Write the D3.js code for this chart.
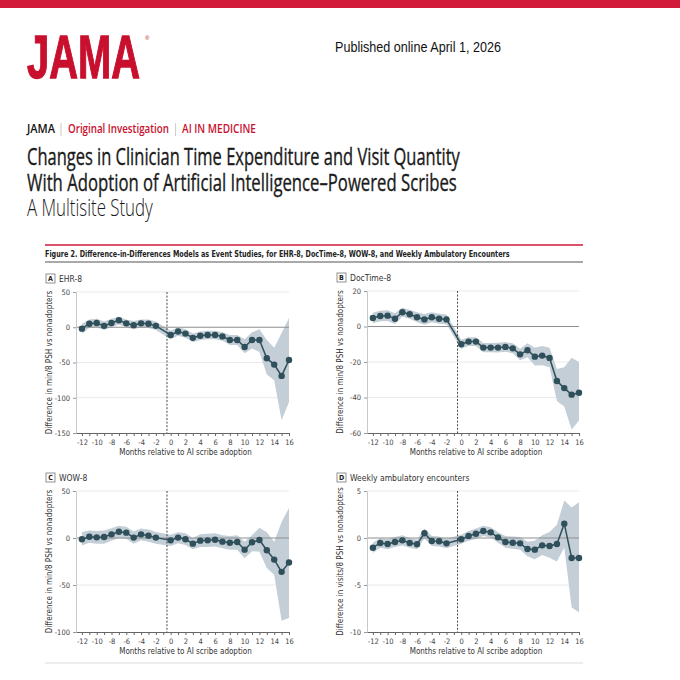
<!DOCTYPE html>
<html>
<head>
<meta charset="utf-8">
<script src="https://cdn.jsdelivr.net/npm/d3@7"></script>
<style>
  html, body { margin: 0; padding: 0; background: #fff; }
  svg { display: block; }
</style>
</head>
<body>
<script>
// months relative to adoption (month -1 is the reference period, not shown)
const months = [-12, -11, -10, -9, -8, -7, -6, -5, -4, -3, -2, 0, 1, 2, 3, 4, 5, 6, 7, 8, 9, 10, 11, 12, 13, 14, 15, 16];
const monthTicks = d3.range(-12, 17);

// A. EHR-8
const ehrEst = [-2, 5, 6, 2, 6, 10, 5.5, 3, 5.5, 5, 2, -11, -6, -9, -15, -12, -11, -11, -13, -18, -18, -28, -18, -18, -44, -53, -69, -46.5];
const ehrHi  = [5, 11, 12, 8, 12, 15, 11, 9, 11, 11, 8, -5, 0, -3, -9, -6, -5, -5, -7, -11, -11, -17, -7, -3, -18, -29, -8, 13];
const ehrLo  = [-9, -1, 0, -4, 0, 4, 0, -3, 0, -1, -4, -17, -12, -15, -21, -18, -17, -17, -19, -25, -25, -37, -30, -35, -67, -75, -132, -106];

// B. DocTime-8
const docEst = [4.8, 5.9, 6.1, 4.4, 8, 6.9, 5.2, 4, 5.2, 4.4, 4, -10, -8.5, -8.5, -11.9, -11.9, -11.9, -11.5, -12.3, -15.7, -13.4, -17, -16.4, -17.7, -30.7, -34.7, -38.4, -37.3];
const docHi  = [7.8, 8.9, 9.1, 7.4, 10.5, 9.5, 8, 7, 8, 7.2, 6.8, -7.5, -6, -6, -9.3, -9.3, -9.2, -8.8, -9.5, -12.5, -9.5, -12, -11, -12, -24, -23, -17.6, -20];
const docLo  = [1.8, 2.9, 3.1, 1.4, 5.5, 4.3, 2.4, 1, 2.4, 1.6, 1.2, -12.5, -11, -11, -14.5, -14.5, -14.6, -14.2, -15.1, -19, -17.3, -22, -21.8, -23, -42, -45, -58, -53];

// C. WOW-8
const wowEst = [-1.4, 1.4, 0.7, 1, 3.9, 6.7, 5.7, 0.4, 3.9, 2.5, 0.4, -2.5, 0.4, -1.4, -6, -2.8, -2.5, -1.8, -3.9, -5, -4.3, -12.4, -4.6, -2.1, -13, -23, -36, -26];
const wowHi  = [6, 8, 7.5, 8, 10.5, 13, 12, 7, 10, 9, 6.5, 3.5, 6, 5, 0, 4, 4.5, 5, 3, 2, 3, -4, 3, 11, 6, -4, 17, 32];
const wowLo  = [-8, -5, -6, -6, -3, 0, -1, -6, -2.5, -4, -6, -8.5, -5.5, -7.5, -12, -9.5, -9.5, -9, -11, -12.5, -12.5, -21.5, -14, -14.5, -32, -39, -88, -85];

// D. Weekly ambulatory encounters
const encEst = [-1.03, -0.53, -0.64, -0.43, -0.25, -0.53, -0.67, 0.5, -0.32, -0.35, -0.57, -0.14, 0.21, 0.46, 0.74, 0.6, 0.07, -0.43, -0.5, -0.57, -1.17, -1.24, -0.78, -0.85, -0.64, 1.52, -2.13, -2.13];
const encHi  = [-0.5, 0, -0.1, 0.1, 0.3, 0, -0.15, 1.0, 0.2, 0.15, -0.05, 0.35, 0.75, 1.0, 1.3, 1.15, 0.6, 0.2, 0.15, 0.1, -0.4, -0.3, 0.3, 0.65, 1.4, 4.0, 3.25, 3.8];
const encLo  = [-1.6, -1.05, -1.2, -0.95, -0.8, -1.05, -1.2, -0.05, -0.85, -0.9, -1.1, -0.6, -0.3, -0.1, 0.2, 0.05, -0.5, -1.05, -1.15, -1.25, -1.95, -2.25, -1.8, -2.1, -2.5, -1.0, -7.4, -7.9];

const panelLetters = ['A', 'B', 'C', 'D'];
const panelTitles = ['EHR-8', 'DocTime-8', 'WOW-8', 'Weekly ambulatory encounters'];
const yLabels = ['Difference in min/8 PSH vs nonadopters', 'Difference in min/8 PSH vs nonadopters',
                 'Difference in min/8 PSH vs nonadopters', 'Difference in visits/8 PSH vs nonadopters'];
const yTickSets = [[50, 0, -50, -100, -150], [20, 0, -20, -40, -60], [50, 0, -50, -100], [5, 0, -5, -10]];
const xLabel = 'Months relative to AI scribe adoption';

const W = 680, H = 680;
const red = '#c8102e';
const ink = '#2f4f5a';
const band = '#c3ced7';
const chartFont = '"Liberation Sans Narrow", "DejaVu Sans Condensed", "Open Sans", sans-serif';
const titleFont = '"Open Sans", "Noto Sans", sans-serif';

const svg = d3.select('body').append('svg').attr('width', W).attr('height', H);

// draw a text at (x, y) and squeeze it horizontally to a measured width
// (the journal face is condensed, none of ours is)
function fitText(x, y, width, str, styles){
    const t = svg.append('text').attr('x', 0).attr('y', 0).text(str);
    for(const k of Object.keys(styles)){
        if(k === 'fill' || k === 'stroke' || k === 'stroke-width') t.attr(k, styles[k]);
        else t.style(k, styles[k]);
    }
    const natural = t.node().getComputedTextLength();
    const sx = natural > 0 ? width / natural : 1;
    t.attr('transform', `translate(${x},${y}) scale(${sx},1)`);
    return t;
}

//header
svg.append('rect').attr('x', 0).attr('y', 0).attr('width', W).attr('height', 8).attr('fill', '#d21a3a');

fitText(27, 78, 113, 'JAMA', {'font-family': '"Liberation Sans", Arial, sans-serif', 'font-weight': 'bold',
    'font-size': '62px', 'fill': red, 'stroke': red, 'stroke-width': 1.3});
svg.append('text').attr('x', 145).attr('y', 40).style('font-family', 'Arial, sans-serif')
    .style('font-size', '6px').attr('fill', red).text('®');

fitText(335, 52, 166, 'Published online April 1, 2026',
    {'font-family': '"Liberation Sans", Arial, sans-serif', 'font-size': '14.5px', 'fill': '#111'});

// kicker line: label | section | topic
const kicker = [
    {text: 'JAMA', x: 27, w: 28, fill: '#111', weight: 600},
    {text: '|', x: 60, w: 2, fill: '#111', weight: 400},
    {text: 'Original Investigation', x: 68, w: 101, fill: red, weight: 600},
    {text: '|', x: 174.5, w: 2, fill: '#111', weight: 400},
    {text: 'AI IN MEDICINE', x: 182, w: 74, fill: red, weight: 600}
];
for(const k of kicker){
    fitText(k.x, 133, k.w, k.text, {'font-family': titleFont, 'font-size': '13px',
        'font-weight': k.weight, 'fill': k.fill});
}

const titleLines = [
    {text: 'Changes in Clinician Time Expenditure and Visit Quantity', y: 165, w: 433, weight: 500},
    {text: 'With Adoption of Artificial Intelligence–Powered Scribes', y: 191, w: 430, weight: 500},
    {text: 'A Multisite Study', y: 216, w: 126, weight: 300}
];
for(const l of titleLines){
    const st = {'font-family': titleFont, 'font-size': '23px', 'font-weight': l.weight, 'fill': '#1a1a1a'};
    if(l.weight > 400){ st['stroke'] = '#1a1a1a'; st['stroke-width'] = 0.35; }
    fitText(27, l.y, l.w, l.text, st);
}

// figure caption and rules
svg.append('line').attr('x1', 45).attr('x2', 583).attr('y1', 245).attr('y2', 245)
    .attr('stroke', '#d21a3a').attr('stroke-width', 1.5);
fitText(45, 257, 465,
    'Figure 2. Difference-in-Differences Models as Event Studies, for EHR-8, DocTime-8, WOW-8, and Weekly Ambulatory Encounters',
    {'font-family': chartFont, 'font-size': '9.5px', 'font-weight': 'bold', 'fill': '#222'});
svg.append('line').attr('x1', 45).attr('x2', 583).attr('y1', 262).attr('y2', 262)
    .attr('stroke', '#8c8c8c').attr('stroke-width', 1.3);
svg.append('line').attr('x1', 45).attr('x2', 583).attr('y1', 663).attr('y2', 663)
    .attr('stroke', '#dcdcdc').attr('stroke-width', 1);

// panel frames
const frames = [
    {x0: 76, x1: 289, y0: 292, y1: 433, est: ehrEst, hi: ehrHi, lo: ehrLo, dom: [-150, 50]},
    {x0: 367, x1: 579, y0: 291, y1: 433, est: docEst, hi: docHi, lo: docLo, dom: [-60, 20]},
    {x0: 76, x1: 289, y0: 491, y1: 632, est: wowEst, hi: wowHi, lo: wowLo, dom: [-100, 50]},
    {x0: 367, x1: 579, y0: 491, y1: 632, est: encEst, hi: encHi, lo: encLo, dom: [-10, 5]}
];

frames.forEach((f, i) => {
    const g = svg.append('g').attr('class', 'panel');
    const x = d3.scaleLinear().domain([-12.8, 16]).range([f.x0, f.x1]);
    const y = d3.scaleLinear().domain(f.dom).range([f.y1, f.y0]);
    const ticks = yTickSets[i];
    const rows = months.map((m, k) => ({m: m, est: f.est[k], lo: f.lo[k], hi: f.hi[k]}));

    // panel label box
    const bx = f.x0 - 30, by = f.y0 - 18;
    g.append('rect').attr('x', bx).attr('y', by).attr('width', 9).attr('height', 9)
        .attr('fill', 'none').attr('stroke', '#777').attr('stroke-width', 0.8);
    g.append('text').attr('x', bx + 4.5).attr('y', by + 7).attr('text-anchor', 'middle')
        .style('font-family', chartFont).style('font-size', '7px').style('font-weight', 'bold')
        .attr('fill', '#222').text(panelLetters[i]);
    g.append('text').attr('x', bx + 13).attr('y', by + 7.5)
        .style('font-family', chartFont).style('font-size', '8.5px').attr('fill', '#333').text(panelTitles[i]);

    // grid
    g.selectAll('.grid').data(ticks.filter(d => d !== 0 && d !== f.dom[0])).join('line')
        .attr('class', 'grid')
        .attr('x1', f.x0).attr('x2', f.x1)
        .attr('y1', d => y(d)).attr('y2', d => y(d))
        .attr('stroke', '#e9e9e9').attr('stroke-width', 1);

    // confidence band
    g.append('path').datum(rows)
        .attr('d', d3.area().x(d => x(d.m)).y0(d => y(d.lo)).y1(d => y(d.hi)))
        .attr('fill', band);

    // zero reference
    g.append('line').attr('x1', f.x0).attr('x2', f.x1).attr('y1', y(0)).attr('y2', y(0))
        .attr('stroke', '#8f8f8f').attr('stroke-width', 1.2);

    // adoption marker
    g.append('line').attr('x1', x(-0.5)).attr('x2', x(-0.5)).attr('y1', f.y0).attr('y2', f.y1)
        .attr('stroke', '#333').attr('stroke-width', 0.9).attr('stroke-dasharray', '2,1.6');

    // axes
    const yAxis = g.append('g').attr('transform', `translate(${f.x0},0)`)
        .call(d3.axisLeft(y).tickValues(ticks).tickSize(3).tickSizeOuter(0).tickFormat(d => String(d)));
    yAxis.select('.domain').attr('stroke', '#c8c8c8');
    yAxis.selectAll('.tick line').attr('stroke', '#999');
    yAxis.selectAll('.tick text').attr('fill', '#444')
        .style('font-family', chartFont).style('font-size', '7.5px');

    const xAxis = g.append('g').attr('transform', `translate(0,${f.y1})`)
        .call(d3.axisBottom(x).tickValues(monthTicks).tickSize(3).tickSizeOuter(0)
            .tickFormat(d => d % 2 === 0 ? String(d) : ''));
    xAxis.select('.domain').attr('stroke', '#666');
    xAxis.selectAll('.tick line').attr('stroke', '#666');
    xAxis.selectAll('.tick text').attr('fill', '#444').attr('dy', '0.75em')
        .style('font-family', chartFont).style('font-size', '7.5px');

    g.append('text').attr('x', (x(-12) + x(16)) / 2).attr('y', f.y1 + 22).attr('text-anchor', 'middle')
        .style('font-family', chartFont).style('font-size', '8px').attr('fill', '#333').text(xLabel);
    g.append('text')
        .attr('transform', `translate(${f.x0 - 24},${(f.y0 + f.y1) / 2}) rotate(-90)`)
        .attr('text-anchor', 'middle')
        .style('font-family', chartFont).style('font-size', '8px').attr('fill', '#333').text(yLabels[i]);

    // estimates
    g.append('path').datum(rows)
        .attr('d', d3.line().x(d => x(d.m)).y(d => y(d.est)))
        .attr('fill', 'none').attr('stroke', ink).attr('stroke-width', 1.5);
    g.selectAll('.pt').data(rows).join('circle')
        .attr('class', 'pt')
        .attr('cx', d => x(d.m)).attr('cy', d => y(d.est)).attr('r', 3.2)
        .attr('fill', ink);
});
</script>
</body>
</html>
